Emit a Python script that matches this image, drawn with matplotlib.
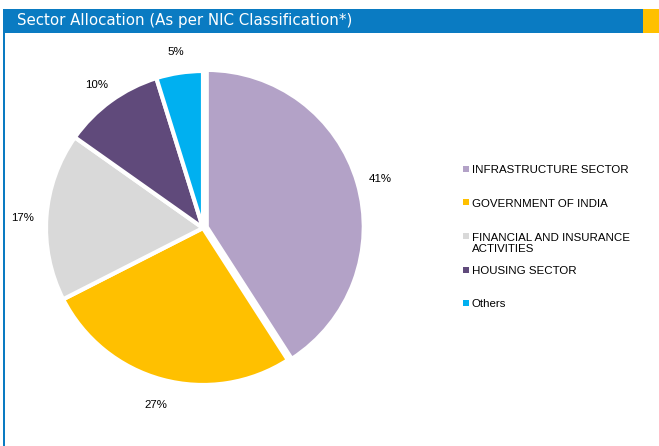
import numpy as np
import matplotlib.pyplot as plt
import matplotlib.transforms as mtransforms
from matplotlib.patches import Rectangle

# ---------- Data ----------
sectors = ['INFRASTRUCTURE SECTOR', 'GOVERNMENT OF INDIA',
           'FINANCIAL AND INSURANCE\nACTIVITIES', 'HOUSING SECTOR', 'Others']
shares = [40.9, 26.6, 17.3, 10.4, 4.8]  # % (labels shown rounded)
colors = ['#B3A2C7', '#FFC000', '#D9D9D9', '#604A7B', '#00B0F0']
title = 'Sector Allocation (As per NIC Classification*)'

# ---------- Figure ----------
W, H = 659, 446
fig = plt.figure(figsize=(W/100, H/100), dpi=100)
fig.patch.set_facecolor('white')

def px_rect(x, y, w, h, c): # rectangle in pixel coords (y from top)
    fig.patches.append(Rectangle((x/W, 1-(y+h)/H), w/W, h/H, transform=fig.transFigure,
                                 facecolor=c, edgecolor='none'))

# header bar + left border
px_rect(3, 9, 640, 24, '#0A7BC2')
px_rect(643, 9, 16, 24, '#FFC000')
px_rect(3, 33, 2, H-33, '#0A7BC2')
fig.text(17/W, 1-21/H, title, color='white', fontsize=10.8, va='center', ha='left',
         family='DejaVu Sans')

# pie
cx, cy, R = 203, 228, 157
ax = fig.add_axes([(cx-R)/W, (H-cy-R)/H, 2*R/W, 2*R/H])
wedges, texts = ax.pie(shares, colors=colors, startangle=90, counterclock=False,
                       explode=[0.025, 0, 0, 0, 0],
                       labels=[f'{round(v)}%' for v in shares], labeldistance=1.15,
                       wedgeprops=dict(edgecolor='white', linewidth=3),
                       textprops=dict(fontsize=8.25, family='Liberation Sans'))
nudge = mtransforms.offset_copy(ax.transData, fig=fig, x=0, y=-3, units='dots')
for t in texts:
    t.set_ha('center')
    t.set_va('center')
    t.set_transform(nudge)
ax.set_xlim(-1, 1)
ax.set_ylim(-1, 1)
ax.set_aspect('equal')
ax.axis('off')

# legend (marker aligned with first line of each entry)
for i, (lab, c) in enumerate(zip(sectors, colors)):
    y = 169 + 33.5*i
    px_rect(463, y-3, 6, 6, c)
    nlines = lab.count('\n')
    fig.text(472/W, 1-(y+4+12*nlines)/H, lab, fontsize=8.25, family='Liberation Sans',
             ha='left', va='baseline', linespacing=1.1)

fig.savefig('out.png', dpi=100)
